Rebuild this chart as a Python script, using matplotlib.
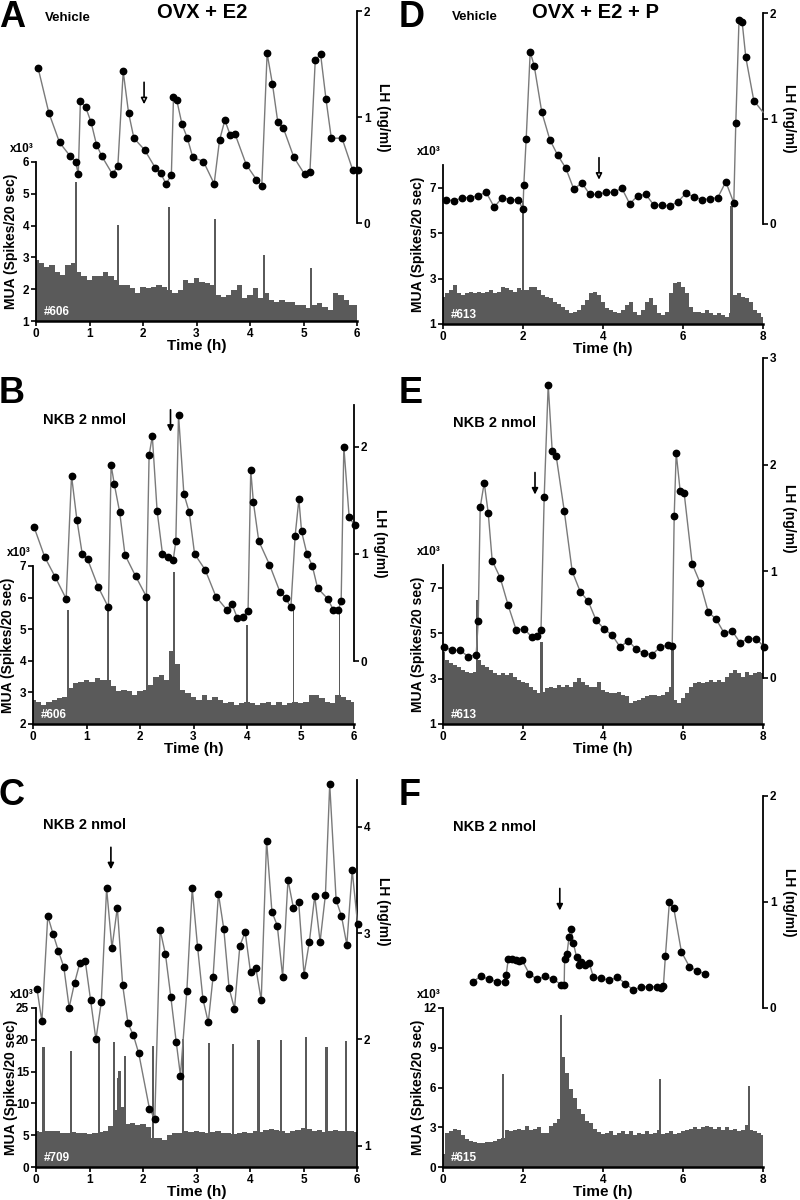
import numpy as np
import matplotlib.pyplot as plt

plt.rcParams['font.family'] = ['Liberation Sans', 'DejaVu Sans']
plt.rcParams['font.weight'] = 'bold'
plt.rcParams['axes.labelweight'] = 'bold'

W, H = 800, 1200
MUA_COLOR = '#5a5a5a'

# ---------------- panel A : OVX + E2, vehicle (#606) ----------------
A_lh_t = [0.04, 0.24, 0.44, 0.64, 0.74, 0.79, 0.83, 0.93, 1.03, 1.13, 1.23, 1.43, 1.53, 1.63,
          1.73, 1.83, 2.03, 2.23, 2.33, 2.43, 2.53, 2.57, 2.63, 2.73, 2.83, 2.93, 3.13, 3.33,
          3.43, 3.53, 3.63, 3.72, 3.93, 4.12, 4.22, 4.32, 4.42, 4.52, 4.62, 4.82, 5.02, 5.12,
          5.22, 5.32, 5.42, 5.52, 5.72, 5.92, 6.02]
A_lh = [1.46, 1.04, 0.76, 0.63, 0.58, 0.46, 1.15, 1.09, 0.95, 0.74, 0.63, 0.46, 0.54, 1.43,
        1.04, 0.80, 0.69, 0.52, 0.47, 0.37, 0.45, 1.19, 1.16, 0.93, 0.80, 0.62, 0.58, 0.37,
        0.78, 0.97, 0.83, 0.84, 0.55, 0.41, 0.35, 1.60, 1.31, 0.95, 0.90, 0.62, 0.46, 0.48,
        1.54, 1.59, 1.17, 0.80, 0.80, 0.50, 0.50]
A_mua = [2.92, 2.82, 2.71, 2.76, 2.55, 2.45, 2.76, 2.82, 2.55, 2.40,
         2.30, 2.40, 2.40, 2.55, 2.40, 2.30, 2.13, 2.13, 2.03, 1.87,
         2.08, 2.03, 2.08, 2.13, 2.08, 1.98, 1.87, 1.98, 2.30, 2.19,
         2.34, 2.24, 2.19, 2.13, 1.82, 1.77, 1.82, 1.98, 2.13, 1.71,
         1.82, 2.03, 1.71, 1.87, 1.66, 1.61, 1.66, 1.61, 1.61, 1.50,
         1.50, 1.40, 1.50, 1.56, 1.45, 1.35, 1.87, 1.82, 1.66, 1.50,
         1.50]
A_spk_t = [0.75, 1.54, 2.48, 3.35, 4.26, 5.14]
A_spk_h = [5.36, 4.03, 4.57, 4.20, 3.06, 2.68]

# ---------------- panel B : OVX + E2, NKB (#606) ----------------
B_lh_t = [0.02, 0.22, 0.42, 0.62, 0.72, 0.82, 0.92, 1.02, 1.22, 1.41, 1.46, 1.52, 1.62, 1.72,
          1.92, 2.12, 2.17, 2.23, 2.32, 2.42, 2.52, 2.62, 2.67, 2.72, 2.82, 2.92, 3.02, 3.22,
          3.42, 3.62, 3.72, 3.82, 3.92, 4.02, 4.07, 4.12, 4.22, 4.42, 4.62, 4.72, 4.82, 4.90,
          4.97, 5.02, 5.12, 5.22, 5.32, 5.51, 5.61, 5.71, 5.76, 5.81, 5.91, 6.01]
B_lh = [1.25, 0.97, 0.78, 0.58, 1.73, 1.32, 1.00, 0.95, 0.69, 0.50, 1.83, 1.65, 1.39, 0.99,
        0.79, 0.60, 1.92, 2.10, 1.40, 1.00, 0.97, 0.94, 1.12, 2.30, 1.56, 1.39, 1.00, 0.85,
        0.60, 0.48, 0.53, 0.40, 0.41, 0.47, 1.78, 1.48, 1.12, 0.90, 0.64, 0.59, 0.50, 1.17,
        1.51, 1.21, 1.00, 0.89, 0.68, 0.58, 0.48, 0.48, 0.56, 2.00, 1.34, 1.27]
B_mua = [2.77, 2.71, 2.61, 2.71, 2.77, 2.82, 2.87, 3.13, 3.29, 3.34,
         3.40, 3.34, 3.45, 3.40, 3.40, 3.19, 3.03, 3.08, 3.03, 2.92,
         3.03, 3.08, 3.24, 3.50, 3.55, 3.40, 4.30, 3.90, 3.08, 2.98,
         2.87, 2.77, 2.92, 2.77, 2.87, 2.77, 2.66, 2.71, 2.61, 2.66,
         2.71, 2.66, 2.61, 2.66, 2.71, 2.61, 2.71, 2.61, 2.66, 2.71,
         2.66, 2.71, 2.92, 2.92, 2.82, 2.71, 2.66, 2.92, 2.87, 2.77,
         2.71]
B_spk_t = [0.66, 1.40, 2.13, 2.63, 4.00, 4.87, 5.73]
B_spk_h = [5.62, 5.70, 6.02, 6.81, 5.13, 5.60, 5.60]

# ---------------- panel C : OVX + E2, NKB (#709) ----------------
C_lh_t = [0.02, 0.11, 0.22, 0.32, 0.42, 0.52, 0.62, 0.72, 0.82, 0.92, 1.02, 1.12, 1.22, 1.32,
          1.42, 1.52, 1.62, 1.72, 1.82, 1.92, 2.12, 2.22, 2.32, 2.42, 2.52, 2.62, 2.70, 2.82,
          2.92, 3.02, 3.12, 3.22, 3.31, 3.41, 3.51, 3.61, 3.71, 3.81, 3.91, 4.01, 4.11, 4.21,
          4.31, 4.41, 4.51, 4.61, 4.71, 4.81, 4.91, 5.01, 5.11, 5.21, 5.31, 5.41, 5.49, 5.61,
          5.71, 5.81, 5.91, 6.01]
C_lh = [2.47, 2.17, 3.16, 2.99, 2.83, 2.68, 2.30, 2.53, 2.72, 2.74, 2.37, 2.00, 2.35, 3.42,
        2.86, 3.24, 2.51, 2.15, 2.04, 1.87, 1.35, 1.25, 3.03, 2.80, 2.40, 1.98, 1.66, 2.46,
        3.42, 2.87, 2.38, 2.16, 2.59, 3.37, 3.04, 2.48, 2.29, 2.88, 3.01, 2.63, 2.67, 2.37,
        3.87, 3.20, 3.07, 2.59, 3.50, 3.24, 3.29, 2.61, 2.92, 3.35, 2.92, 3.36, 4.40, 3.31,
        3.16, 2.89, 3.59, 3.09]
C_mua = [5.6, 5.5, 5.7, 5.6, 5.6, 5.4, 5.3, 5.5, 5.4, 5.4,
         5.2, 5.3, 5.5, 5.6, 6.5, 9.0, 9.5, 6.8, 6.9, 6.6,
         6.7, 6.3, 4.6, 4.5, 4.3, 5.0, 5.3, 5.4, 5.6, 5.5,
         5.6, 5.5, 5.4, 5.5, 5.6, 5.3, 5.4, 5.2, 5.4, 5.5,
         5.4, 5.6, 5.5, 5.8, 5.9, 5.8, 5.6, 5.4, 5.7, 5.8,
         6.1, 6.0, 5.6, 5.8, 5.5, 5.7, 5.8, 5.6, 5.7, 5.6,
         5.5]
C_spk_t = [0.14, 0.66, 1.17, 1.45, 1.53, 1.56, 1.66, 2.19, 2.74, 3.23, 3.69, 4.16, 4.58,
           5.05, 5.43, 5.79]
C_spk_h = [18.8, 18.3, 20.1, 19.6, 14.0, 15.1, 17.4, 19.0, 20.1, 19.5, 19.3, 20.0, 19.9,
           20.4, 18.8, 19.8]

# ---------------- panel D : OVX + E2 + P, vehicle (#613) ----------------
D_lh_t = [0.08, 0.28, 0.48, 0.68, 0.88, 1.08, 1.28, 1.48, 1.68, 1.88, 2.00, 2.02, 2.08, 2.18,
          2.28, 2.47, 2.67, 2.87, 3.07, 3.27, 3.47, 3.67, 3.87, 4.07, 4.27, 4.47, 4.67, 4.87,
          5.07, 5.27, 5.47, 5.67, 5.87, 6.07, 6.27, 6.47, 6.67, 6.87, 7.07, 7.27, 7.32, 7.40,
          7.48, 7.57, 7.77, 8.00]
D_lh = [0.23, 0.22, 0.25, 0.25, 0.27, 0.30, 0.16, 0.25, 0.23, 0.23, 0.14, 0.37, 0.81, 1.63,
        1.50, 1.06, 0.80, 0.65, 0.53, 0.33, 0.39, 0.28, 0.28, 0.30, 0.30, 0.34, 0.19, 0.27,
        0.28, 0.18, 0.18, 0.17, 0.21, 0.29, 0.26, 0.23, 0.24, 0.25, 0.40, 0.20, 0.96, 1.93,
        1.91, 1.58, 1.17, 1.06]
D_mua = [2.20, 2.35, 2.50, 2.70, 2.35, 2.27, 2.35, 2.42, 2.35, 2.42,
         2.35, 2.42, 2.50, 2.35, 2.42, 2.64, 2.57, 2.50, 2.42, 2.57,
         2.50, 2.50, 2.64, 2.64, 2.50, 2.27, 2.20, 2.13, 1.98, 1.90,
         1.76, 1.61, 1.47, 1.54, 1.61, 1.83, 2.05, 2.35, 2.42, 2.27,
         1.98, 1.69, 1.61, 1.54, 1.47, 1.61, 1.83, 1.98, 1.54, 1.40,
         1.61, 1.98, 2.13, 1.83, 1.47, 1.40, 1.54, 2.35, 2.79, 2.86,
         2.64, 2.35, 1.76, 1.54, 1.54, 1.47, 1.61, 1.47, 1.40, 1.47,
         1.40, 1.32, 1.50, 2.27, 2.35, 2.20, 2.13, 1.98, 1.61, 1.47,
         1.32]
D_spk_t = [2.00, 7.21]
D_spk_h = [6.40, 6.20]

# ---------------- panel E : OVX + E2 + P, NKB (#613) ----------------
E_lh_t = [0.03, 0.23, 0.43, 0.63, 0.83, 0.88, 0.93, 1.03, 1.13, 1.23, 1.43, 1.63, 1.83, 2.03,
          2.23, 2.35, 2.45, 2.53, 2.63, 2.73, 2.83, 3.03, 3.23, 3.43, 3.63, 3.83, 4.03, 4.23,
          4.43, 4.63, 4.83, 5.03, 5.23, 5.43, 5.63, 5.73, 5.78, 5.83, 5.93, 6.03, 6.23, 6.43,
          6.63, 6.83, 7.03, 7.23, 7.43, 7.63, 7.83, 8.03]
E_lh = [0.29, 0.26, 0.26, 0.20, 0.22, 0.53, 1.60, 1.83, 1.55, 1.10, 0.94, 0.68, 0.45, 0.46,
        0.38, 0.39, 0.45, 1.70, 2.75, 2.13, 2.08, 1.57, 1.00, 0.81, 0.72, 0.54, 0.46, 0.40,
        0.29, 0.35, 0.27, 0.23, 0.22, 0.29, 0.31, 0.30, 1.52, 2.11, 1.75, 1.73, 1.07, 0.89,
        0.62, 0.55, 0.42, 0.44, 0.33, 0.37, 0.37, 0.29]
E_mua = [4.19, 3.83, 3.68, 3.61, 3.53, 3.39, 3.31, 3.24, 3.31, 3.83,
         3.61, 3.53, 3.39, 3.24, 3.17, 3.24, 3.17, 3.24, 3.09, 2.95,
         2.87, 2.80, 2.65, 2.51, 2.36, 2.43, 2.58, 2.65, 2.58, 2.73,
         2.65, 2.73, 2.65, 2.87, 3.02, 2.87, 2.73, 2.65, 2.65, 2.87,
         2.51, 2.43, 2.36, 2.36, 2.43, 2.29, 2.22, 1.92, 2.00, 2.07,
         2.14, 2.22, 2.29, 2.29, 2.22, 2.29, 2.43, 2.65, 2.07, 1.92,
         2.14, 2.36, 2.65, 2.80, 2.87, 2.80, 2.87, 2.95, 2.87, 2.95,
         2.87, 3.09, 3.24, 3.39, 3.24, 3.09, 3.31, 3.17, 3.24, 3.31,
         3.24]
E_spk_t = [0.85, 2.47, 5.73]
E_spk_h = [6.46, 4.63, 4.27]

# ---------------- panel F : OVX + E2 + P, NKB (#615) ----------------
F_lh_t = [0.75, 0.95, 1.15, 1.35, 1.55, 1.58, 1.63, 1.73, 1.83, 1.89, 1.98, 2.16, 2.36, 2.56,
          2.76, 2.96, 3.03, 3.04, 3.10, 3.15, 3.20, 3.26, 3.34, 3.39, 3.46, 3.54, 3.66, 3.76,
          3.96, 4.16, 4.36, 4.56, 4.76, 4.96, 5.16, 5.36, 5.46, 5.51, 5.56, 5.66, 5.77, 5.96,
          6.16, 6.36, 6.56]
F_lh = [0.25, 0.30, 0.27, 0.25, 0.25, 0.31, 0.46, 0.46, 0.45, 0.44, 0.45, 0.32, 0.27, 0.30,
        0.27, 0.22, 0.22, 0.46, 0.51, 0.67, 0.75, 0.61, 0.48, 0.41, 0.43, 0.41, 0.42, 0.29,
        0.28, 0.26, 0.29, 0.23, 0.17, 0.20, 0.20, 0.20, 0.19, 0.21, 0.49, 1.00, 0.94, 0.53,
        0.39, 0.35, 0.32]
F_mua = [1.0, 2.6, 2.7, 2.9, 2.8, 2.4, 2.1, 2.0, 1.9, 1.8,
         1.8, 1.9, 1.9, 2.0, 2.1, 2.2, 2.8, 2.7, 2.8, 2.9,
         2.8, 3.1, 2.8, 2.9, 3.0, 2.6, 2.6, 3.1, 3.3, 3.6,
         8.3, 7.1, 5.9, 5.2, 4.4, 4.0, 3.5, 3.3, 2.9, 2.65,
         2.5, 2.6, 2.7, 2.4, 2.6, 2.7, 2.5, 2.7, 2.4, 2.6,
         2.5, 2.7, 2.5, 2.6, 2.8, 2.5, 2.6, 2.7, 2.5, 2.6,
         2.7, 2.8, 2.9, 3.0, 2.9, 3.0, 3.1, 3.0, 2.9, 3.0,
         2.8, 3.0, 2.8, 2.9, 2.7, 2.8, 3.2, 2.8, 2.7, 2.6,
         2.4]
F_spk_t = [1.50, 2.95, 5.42, 7.65]
F_spk_h = [7.0, 11.5, 6.64, 6.1]

# injection arrows: time (h), tip height (LH units), hollow head for vehicle
arrow_t = {'A': 2.02, 'B': 2.57, 'C': 1.40, 'D': 3.90, 'E': 2.30, 'F': 2.92}
arrow_tip = {'A': 1.12, 'B': 2.14, 'C': 3.60, 'D': 0.42, 'E': 1.72, 'F': 0.92}

# layout in pixels: (x_left, x_right, y_top, y_bottom)
panels = {
    'A': dict(lh_t=A_lh_t, lh=A_lh, mua=A_mua, spk_t=A_spk_t, spk_h=A_spk_h, spk_w=0.035,
              mua_box=(36, 357, 162, 321), mua_ylim=(1, 6), mua_ticks=[1, 2, 3, 4, 5, 6],
              lh_box=(36, 357, 11, 223), lh_ylim=(0, 2), lh_ticks=[0, 1, 2], lh_lab_y=0.5,
              xticks=[0, 1, 2, 3, 4, 5, 6], tag='#606', hollow=True, open_end=False),
    'B': dict(lh_t=B_lh_t, lh=B_lh, mua=B_mua, spk_t=B_spk_t, spk_h=B_spk_h, spk_w=0.035,
              mua_box=(33, 354, 566, 724), mua_ylim=(2, 7), mua_ticks=[2, 3, 4, 5, 6, 7],
              lh_box=(33, 354, 405, 661), lh_ylim=(0, 2.39), lh_ticks=[0, 1, 2], lh_lab_y=0.46,
              xticks=[0, 1, 2, 3, 4, 5, 6], tag='#606', hollow=False, open_end=False),
    'C': dict(lh_t=C_lh_t, lh=C_lh, mua=C_mua, spk_t=C_spk_t, spk_h=C_spk_h, spk_w=0.04,
              mua_box=(36, 357, 1008, 1167), mua_ylim=(0, 25), mua_ticks=[0, 5, 10, 15, 20, 25],
              lh_box=(36, 357, 780, 1167), lh_ylim=(0.8, 4.44), lh_ticks=[1, 2, 3, 4], lh_lab_y=0.66,
              xticks=[0, 1, 2, 3, 4, 5, 6], tag='#709', hollow=False, open_end=False),
    'D': dict(lh_t=D_lh_t, lh=D_lh, mua=D_mua, spk_t=D_spk_t, spk_h=D_spk_h, spk_w=0.07,
              mua_box=(443, 763, 165, 324), mua_ylim=(1, 8), mua_ticks=[1, 3, 5, 7],
              lh_box=(443, 763, 13, 224), lh_ylim=(0, 2), lh_ticks=[0, 1, 2], lh_lab_y=0.5,
              xticks=[0, 2, 4, 6, 8], tag='#613', hollow=True, open_end=True),
    'E': dict(lh_t=E_lh_t, lh=E_lh, mua=E_mua, spk_t=E_spk_t, spk_h=E_spk_h, spk_w=0.07,
              mua_box=(443, 763, 565, 724), mua_ylim=(1, 8), mua_ticks=[1, 3, 5, 7],
              lh_box=(443, 763, 358, 678), lh_ylim=(0, 3), lh_ticks=[0, 1, 2, 3], lh_lab_y=0.5,
              xticks=[0, 2, 4, 6, 8], tag='#613', hollow=False, open_end=False),
    'F': dict(lh_t=F_lh_t, lh=F_lh, mua=F_mua, spk_t=F_spk_t, spk_h=F_spk_h, spk_w=0.06,
              mua_box=(443, 763, 1008, 1167), mua_ylim=(0, 12), mua_ticks=[0, 3, 6, 9, 12],
              lh_box=(443, 763, 796, 1008), lh_ylim=(0, 2), lh_ticks=[0, 1, 2], lh_lab_y=0.5,
              xticks=[0, 2, 4, 6, 8], tag='#615', hollow=False, open_end=False),
}

fig = plt.figure(figsize=(W / 100, H / 100), dpi=100)


def rect(x0, x1, ytop, ybot):
    return [x0 / W, 1 - ybot / H, (x1 - x0) / W, (ybot - ytop) / H]


def bold_ticks(ax):
    for lab in ax.get_xticklabels() + ax.get_yticklabels():
        lab.set_fontweight('bold')


def draw_panel(key, p):
    t_end = p['xticks'][-1]
    y0 = p['mua_ylim'][0]

    # multi-unit activity histogram
    ax = fig.add_axes(rect(*p['mua_box']))
    t = np.linspace(0, t_end, len(p['mua']))
    ax.fill_between(t, y0, p['mua'], step='mid', color=MUA_COLOR, lw=0)
    ax.bar(p['spk_t'], np.array(p['spk_h']) - y0, bottom=y0, width=p['spk_w'],
           color=MUA_COLOR, lw=0)
    ax.set_xlim(0, t_end)
    ax.set_ylim(*p['mua_ylim'])
    ax.set_xticks(p['xticks'])
    ax.set_yticks(p['mua_ticks'])
    ax.spines[['top', 'right']].set_visible(False)
    ax.spines['left'].set_linewidth(1.3)
    ax.spines['bottom'].set_linewidth(1.8)
    ax.tick_params(direction='out', length=3.5, width=1.2, labelsize=8.5, pad=1.5)
    bold_ticks(ax)
    hpx = p['mua_box'][3] - p['mua_box'][2]
    wpx = p['mua_box'][1] - p['mua_box'][0]
    ax.set_xlabel('Time (h)', fontsize=11)
    ax.xaxis.set_label_coords(0.5, -25 / hpx)
    ax.xaxis.label.set_va('center')
    ax.set_ylabel('MUA (Spikes/20 sec)', fontsize=10)
    ax.yaxis.set_label_coords(-25 / wpx, 0.5)
    ax.yaxis.label.set_va('center')
    ax.annotate('x10³', xy=(0, 1), xycoords='axes fraction', xytext=(-2, 13),
                textcoords='offset pixels', ha='right', va='center', fontsize=8.5)
    ax.annotate(p['tag'], xy=(0, 0), xycoords='axes fraction', xytext=(8, 9),
                textcoords='offset pixels', ha='left', va='center', fontsize=8.5,
                color='white')

    # LH profile on its own right-hand scale
    ax2 = fig.add_axes(rect(*p['lh_box']))
    ax2.patch.set_visible(False)
    for s in ['left', 'top', 'bottom']:
        ax2.spines[s].set_visible(False)
    ax2.spines['right'].set_linewidth(1.3)
    ax2.yaxis.tick_right()
    ax2.yaxis.set_label_position('right')
    ax2.set_xticks([])
    ax2.set_xlim(0, t_end)
    ax2.set_ylim(*p['lh_ylim'])
    ax2.set_yticks(p['lh_ticks'])
    ax2.tick_params(direction='out', length=3.5, width=1.2, labelsize=8.5, pad=1.5)
    bold_ticks(ax2)
    n = len(p['lh_t']) - 1 if p['open_end'] else len(p['lh_t'])
    ax2.plot(p['lh_t'], p['lh'], color='#7a7a7a', lw=1.0, clip_on=False, zorder=3)
    ax2.plot(p['lh_t'][:n], p['lh'][:n], 'o', color='black', ms=4.6, clip_on=False, zorder=4)
    ax2.set_ylabel('LH (ng/ml)', fontsize=10, rotation=270)
    ax2.yaxis.set_label_coords(1 + 26 / wpx, p['lh_lab_y'])
    ax2.yaxis.label.set_va('center')

    # injection arrow
    lh_hpx = p['lh_box'][3] - p['lh_box'][2]
    alen = 22 * (p['lh_ylim'][1] - p['lh_ylim'][0]) / lh_hpx
    fc = 'white' if p['hollow'] else 'black'
    ax2.annotate('', xy=(arrow_t[key], arrow_tip[key]),
                 xytext=(arrow_t[key], arrow_tip[key] + alen),
                 arrowprops=dict(arrowstyle='-|>', lw=1.2, mutation_scale=9,
                                 facecolor=fc, edgecolor='black', shrinkA=0, shrinkB=0))


for key, p in panels.items():
    draw_panel(key, p)


def ftext(x, y, s, **kw):
    fig.text(x / W, 1 - y / H, s, **kw)


for letter, x, y in [('A', -1, 27), ('B', -1, 403), ('C', -1, 805),
                     ('D', 399, 27), ('E', 399, 403), ('F', 399, 805)]:
    ftext(x, y, letter, fontsize=26, ha='left', va='baseline')

ftext(45, 18, 'Vehicle', fontsize=9.5, ha='left', va='center')
ftext(452, 17, 'Vehicle', fontsize=9.5, ha='left', va='center')
ftext(202, 12, 'OVX + E2', fontsize=14.5, ha='center', va='center')
ftext(596, 12, 'OVX + E2 + P', fontsize=14.5, ha='center', va='center')
for x, y in [(43, 420), (453, 423), (43, 825), (453, 827)]:
    ftext(x, y, 'NKB 2 nmol', fontsize=10.5, ha='left', va='center')

fig.savefig('out.png', dpi=100)
